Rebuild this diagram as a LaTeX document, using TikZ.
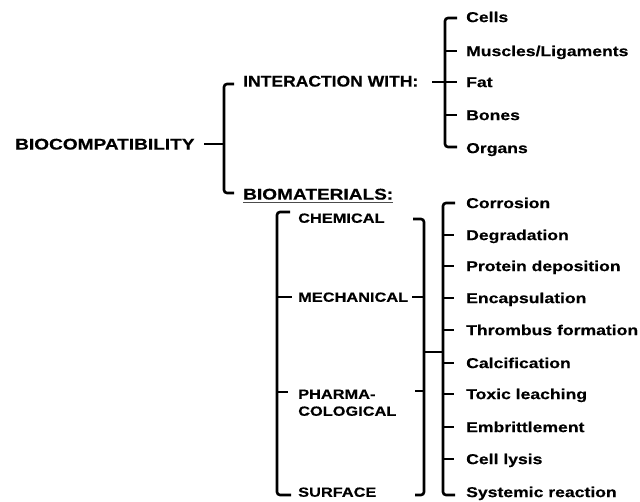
\documentclass[tikz,border=0pt]{standalone}
\usepackage{fontspec}
\setmainfont{Liberation Sans}[FakeStretch=1.23,BoldFeatures={FakeBold=0.4}]
\newfontfamily\interfont{Liberation Sans}[FakeStretch=1.13,BoldFeatures={FakeBold=0.4}]
\begin{document}
\begin{tikzpicture}[x=1pt,y=-1pt,
  lbl/.style={inner sep=0pt,anchor=west,text depth=0pt},
  mainlbl/.style={lbl,font=\fontsize{15.5}{18}\selectfont\bfseries,text height=11.1pt},
  sublbl/.style={lbl,font=\fontsize{13.3}{16}\selectfont\bfseries,text height=9.5pt},
  item/.style={lbl,font=\fontsize{14.3}{17}\selectfont\bfseries,text height=10.2pt},
  brk/.style={line width=2.6pt,rounded corners=3pt},
  tick/.style={line width=2.2pt}]
\useasboundingbox (0,0) rectangle (640,501);
% labels
\node[mainlbl] (bio) at (15,144) {BIOCOMPATIBILITY};
\node[mainlbl,font=\fontsize{15.5}{18}\interfont\bfseries] (inter) at (243,81) {INTERACTION WITH:};
\node[mainlbl] (biomat) at (243,194) {BIOMATERIALS:};
\draw[line width=1.3pt,black!70] ([yshift=-3pt]biomat.south west) -- ([yshift=-3pt]biomat.south east);
\node[sublbl] (chem) at (298,218) {CHEMICAL};
\node[sublbl] (mech) at (298,297) {MECHANICAL};
\node[sublbl] (pharmaA) at (298,394) {PHARMA-};
\node[sublbl] (pharmaB) at (298,411) {COLOGICAL};
\node[sublbl] (surf) at (298,492) {SURFACE};
% interaction items
\node[item] (cells) at (466,17) {Cells};
\node[item] (musc) at (466,51) {Muscles/Ligaments};
\node[item] (fat) at (466,82) {Fat};
\node[item] (bones) at (466,115) {Bones};
\node[item] (organs) at (466,148) {Organs};
% biomaterial items
\node[item] (corr) at (466,203) {Corrosion};
\node[item] (degr) at (466,235) {Degradation};
\node[item] (prot) at (466,266) {Protein deposition};
\node[item] (enc) at (466,298) {Encapsulation};
\node[item] (thromb) at (466,330) {Thrombus formation};
\node[item] (calc) at (466,363) {Calcification};
\node[item] (tox) at (466,394) {Toxic leaching};
\node[item] (embr) at (466,427) {Embrittlement};
\node[item] (lysis) at (466,459) {Cell lysis};
\node[item] (syst) at (466,492) {Systemic reaction};
% main bracket
\coordinate (m1) at (224,144);
\draw[tick] (204,144) -- (m1);
\draw[brk] (234,84) -- (224,84) -- (224,193) -- (234,193);
% interaction bracket
\draw[brk] (457,18) -- (445,18) -- (445,147) -- (457,147);
\draw[tick] (445,51) -- (457,51);
\draw[tick] (432,82) -- (457,82);
\draw[tick] (445,115) -- (457,115);
% left biomaterials bracket
\draw[brk] (290,212) -- (277,212) -- (277,495) -- (291,495);
\draw[tick] (277,297) -- (292,297);
\draw[tick] (277,392) -- (288,392);
% right biomaterials bracket
\draw[brk] (413,219) -- (424,219) -- (424,495) -- (415,495);
\draw[tick] (412,297) -- (424,297);
\draw[tick] (415,391) -- (424,391);
\draw[tick] (424,352) -- (443,352);
% item bracket
\draw[brk] (455,203) -- (443,203) -- (443,495) -- (455,495);
\foreach \yy in {235,266,298,330,363,394,427,459}
  \draw[tick] (443,\yy) -- (454,\yy);
\end{tikzpicture}
\end{document}
